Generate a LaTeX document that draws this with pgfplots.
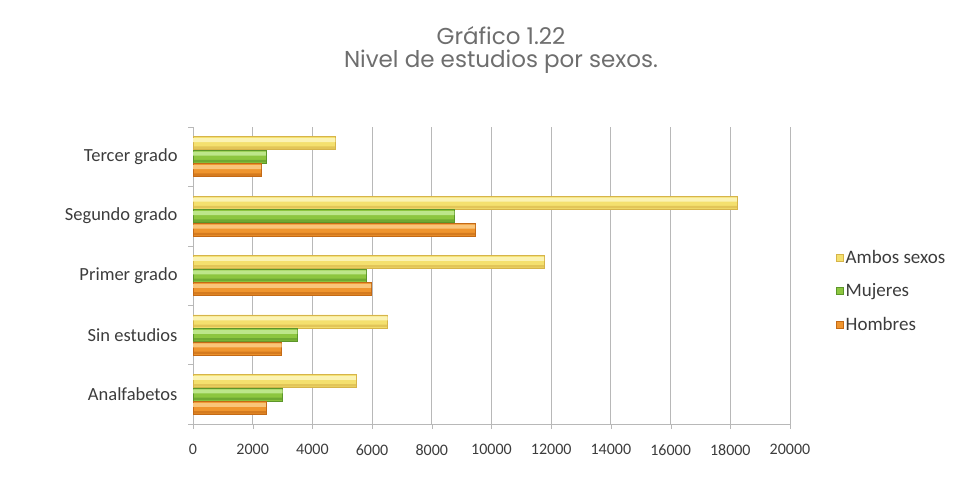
\documentclass[border=0pt]{standalone}
\usepackage{pgfplots}
\usepackage{pgfplotstable}
\pgfplotsset{compat=1.18}
\usepackage{fontspec}
\setmainfont{Carlito}
\newfontfamily\titlefont{Poppins}
\definecolor{ambL}{HTML}{FBF3B4}
\definecolor{ambM}{HTML}{F4E06E}
\definecolor{ambD}{HTML}{D6B44A}
\definecolor{mujL}{HTML}{BDE68A}
\definecolor{mujM}{HTML}{8DC63F}
\definecolor{mujD}{HTML}{5C962A}
\definecolor{homL}{HTML}{F9C57A}
\definecolor{homM}{HTML}{EF952E}
\definecolor{homD}{HTML}{C46A16}
\definecolor{gridc}{HTML}{B8B8B8}
\definecolor{txt}{HTML}{3C3C3C}
\definecolor{ttl}{HTML}{6E6E6E}
\pgfplotstableread{
y amb muj hom
0 5460 3000 2440
1 6520 3500 2970
2 11760 5800 5970
3 18220 8760 9450
4 4770 2440 2280
}\datatable
\begin{document}
\begin{tikzpicture}
\useasboundingbox (0,0) rectangle (954bp,484bp);
\node[font=\titlefont\fontsize{23bp}{26bp}\selectfont, text=ttl] at (501bp,448bp) {Gráfico 1.22};
\node[font=\titlefont\fontsize{23bp}{26bp}\selectfont, text=ttl] at (501bp,422bp) {Nivel de estudios por sexos.};
\begin{axis}[
  at={(193bp,60bp)}, anchor=south west,
  scale only axis, width=597bp, height=297bp,
  xmin=0, xmax=20000, ymin=-0.5, ymax=4.5,
  xtick={0,2000,...,20000},
  ytick={-0.5,0.5,1.5,2.5,3.5,4.5},
  yticklabels={},
  extra y ticks={0,1,2,3,4},
  extra y tick labels={Analfabetos,Sin estudios,Primer grado,Segundo grado,Tercer grado},
  extra y tick style={major tick length=0pt, yticklabel style={xshift=-12bp, font=\fontsize{18.5bp}{20bp}\selectfont}},
  major tick length=5bp,
  tick style={gridc},
  tick align=outside,
  scaled x ticks=false,
  /pgf/number format/1000 sep={},
  /pgf/number format/assume math mode=true,
  ticklabel style={font=\fontsize{16bp}{18bp}\selectfont, text=txt},
  xticklabel style={yshift=-12bp},
  xmajorgrids, grid style={gridc, line width=0.9bp},
  axis x line*=bottom, axis y line*=left,
  axis line style={gridc, line width=0.9bp},
  xbar, bar width=13bp,
  legend style={at={(1.072,0.6)}, anchor=north west, draw=none, fill=none,
    font=\fontsize{19bp}{21bp}\selectfont, text=txt, row sep=15bp,
    /tikz/every even column/.append style={column sep=0bp}},
  legend cell align=left,
  legend image code/.code={\draw[#1] (0bp,-3.5bp) rectangle (7bp,3.5bp);},
]
% base bars
\addplot[xbar, bar shift=13.5bp, fill=ambM, draw=ambD, line width=0.5bp] table[x=amb,y=y] \datatable;
\addplot[xbar, bar shift=0bp, fill=mujM, draw=mujD, line width=0.5bp] table[x=muj,y=y] \datatable;
\addplot[xbar, bar shift=-13.5bp, fill=homM, draw=homD, line width=0.5bp] table[x=hom,y=y] \datatable;
% highlight bands (top)
\addplot[forget plot, xbar, bar width=4bp, bar shift=16.5bp, fill=ambL, draw=none] table[x=amb,y=y] \datatable;
\addplot[forget plot, xbar, bar width=4bp, bar shift=3bp, fill=mujL, draw=none] table[x=muj,y=y] \datatable;
\addplot[forget plot, xbar, bar width=4bp, bar shift=-10.5bp, fill=homL, draw=none] table[x=hom,y=y] \datatable;
% shade bands (bottom)
\addplot[forget plot, xbar, bar width=2.5bp, bar shift=9bp, fill=ambD, draw=none, opacity=0.6] table[x=amb,y=y] \datatable;
\addplot[forget plot, xbar, bar width=2.5bp, bar shift=-4.5bp, fill=mujD, draw=none, opacity=0.6] table[x=muj,y=y] \datatable;
\addplot[forget plot, xbar, bar width=2.5bp, bar shift=-18bp, fill=homD, draw=none, opacity=0.6] table[x=hom,y=y] \datatable;
\legend{Ambos sexos, Mujeres, Hombres}
\end{axis}
\end{tikzpicture}
\end{document}
